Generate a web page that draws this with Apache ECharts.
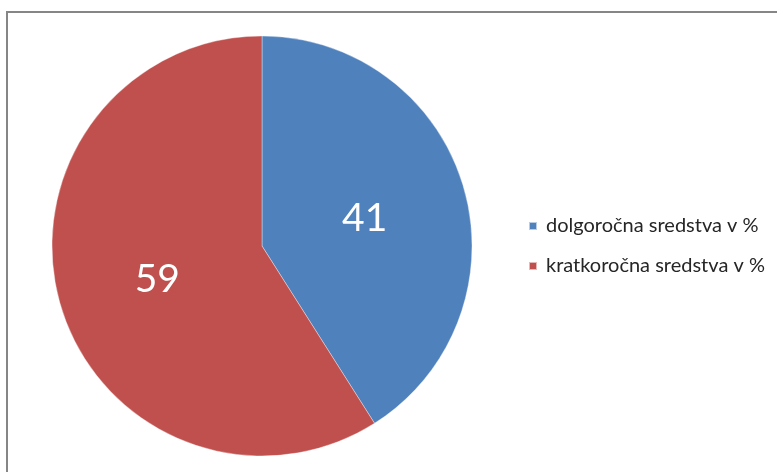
<!DOCTYPE html>
<html><head><meta charset="utf-8">
<script src="https://cdn.jsdelivr.net/npm/echarts@6/dist/echarts.min.js"></script>
<style>html,body{margin:0;padding:0;background:#fff;}#c{width:777px;height:472px;}</style>
</head><body><div id="c"></div>
<script>
const categories = ['dolgoročna sredstva v %', 'kratkoročna sredstva v %'];
const values = [41, 59];
const colors = ['#4F81BD', '#C0504D'];

const chart = echarts.init(document.getElementById('c'));
chart.setOption({
  animation: false,
  graphic: [{
    type: 'rect',
    shape: { x: 7, y: 12, width: 820, height: 520 },
    style: { fill: 'none', stroke: '#868686', lineWidth: 2 },
    silent: true
  }],
  legend: {
    orient: 'vertical',
    left: 523,
    top: 211,
    itemWidth: 8,
    itemHeight: 8,
    itemGap: 20,
    icon: 'rect',
    textStyle: { fontFamily: 'Lato', fontSize: 20, lineHeight: 20, color: '#262626', padding: [0, 0, 0, 4] },
    data: categories
  },
  series: [{
    type: 'pie',
    center: [262, 246],
    radius: [0, 210],
    startAngle: 90,
    clockwise: true,
    color: colors,
    label: {
      position: 'inside',
      formatter: '{c}',
      color: '#fff',
      fontFamily: 'Lato',
      fontSize: 39,
      offset: [-1, 3]
    },
    labelLine: { show: false },
    itemStyle: { borderColor: 'rgba(255,255,255,0.6)', borderWidth: 0.6 },
    emphasis: { disabled: true },
    data: categories.map((n, i) => ({ name: n, value: values[i] }))
  }]
});
</script></body></html>
